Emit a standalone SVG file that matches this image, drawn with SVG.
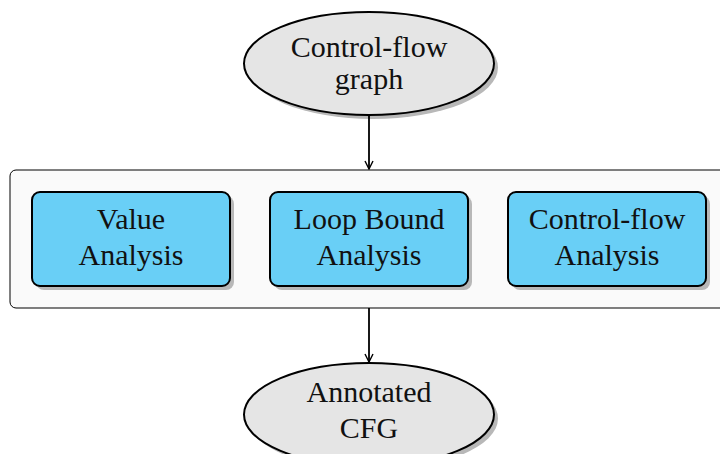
<svg xmlns="http://www.w3.org/2000/svg" width="720" height="454" viewBox="0 0 720 454">
  <defs>
    <marker id="arrow" viewBox="0 0 10 10" refX="9" refY="5" markerWidth="10" markerHeight="10" markerUnits="userSpaceOnUse" orient="auto">
      <path d="M1,1 L9,5 L1,9" fill="none" stroke="#000" stroke-width="1.4"/>
    </marker>
  </defs>
  <style>
    .label { font-family: "Liberation Serif", "DejaVu Serif", serif; font-size: 30px; fill: #111111; text-anchor: middle; }
    .shadow { fill: #b8b8b8; }
    .ellipse { fill: #e5e5e5; stroke: #000; stroke-width: 2; }
    .box { fill: #69cff6; stroke: #000; stroke-width: 2; }
    .group { fill: #fafafa; stroke: #000; stroke-width: 1; }
    .edge { stroke: #000; stroke-width: 1.8; fill: none; }
  </style>
  <rect width="720" height="454" fill="#ffffff"/>

  <!-- analysis container -->
  <g id="analyses">
    <rect class="group" x="10" y="170" width="730" height="138" rx="6"/>
  </g>

  <g id="cfg">
    <ellipse class="shadow" cx="373" cy="67.5" rx="125" ry="51.5"/>
    <ellipse class="ellipse" cx="369" cy="63.5" rx="125" ry="51.5"/>
    <text class="label" x="369" y="57">Control-flow</text>
    <text class="label" x="369" y="89">graph</text>
  </g>

  <g id="value-analysis">
    <rect class="shadow" x="36" y="196" width="198" height="94" rx="8"/>
    <rect class="box" x="32" y="192" width="198" height="94" rx="8"/>
    <text class="label" x="131" y="229">Value</text>
    <text class="label" x="131" y="265">Analysis</text>
  </g>

  <g id="loop-bound-analysis">
    <rect class="shadow" x="274" y="196" width="198" height="94" rx="8"/>
    <rect class="box" x="270" y="192" width="198" height="94" rx="8"/>
    <text class="label" x="369" y="229">Loop Bound</text>
    <text class="label" x="369" y="265">Analysis</text>
  </g>

  <g id="control-flow-analysis">
    <rect class="shadow" x="512" y="196" width="198" height="94" rx="8"/>
    <rect class="box" x="508" y="192" width="198" height="94" rx="8"/>
    <text class="label" x="607" y="229">Control-flow</text>
    <text class="label" x="607" y="265">Analysis</text>
  </g>

  <g id="annotated-cfg">
    <ellipse class="shadow" cx="373" cy="418.5" rx="125" ry="51.5"/>
    <ellipse class="ellipse" cx="369" cy="414.5" rx="125" ry="51.5"/>
    <text class="label" x="369" y="402">Annotated</text>
    <text class="label" x="369" y="438">CFG</text>
  </g>

  <g id="connectors">
    <line class="edge" x1="369" y1="115" x2="369" y2="169" marker-end="url(#arrow)"/>
    <line class="edge" x1="369" y1="308" x2="369" y2="362" marker-end="url(#arrow)"/>
  </g>
</svg>
